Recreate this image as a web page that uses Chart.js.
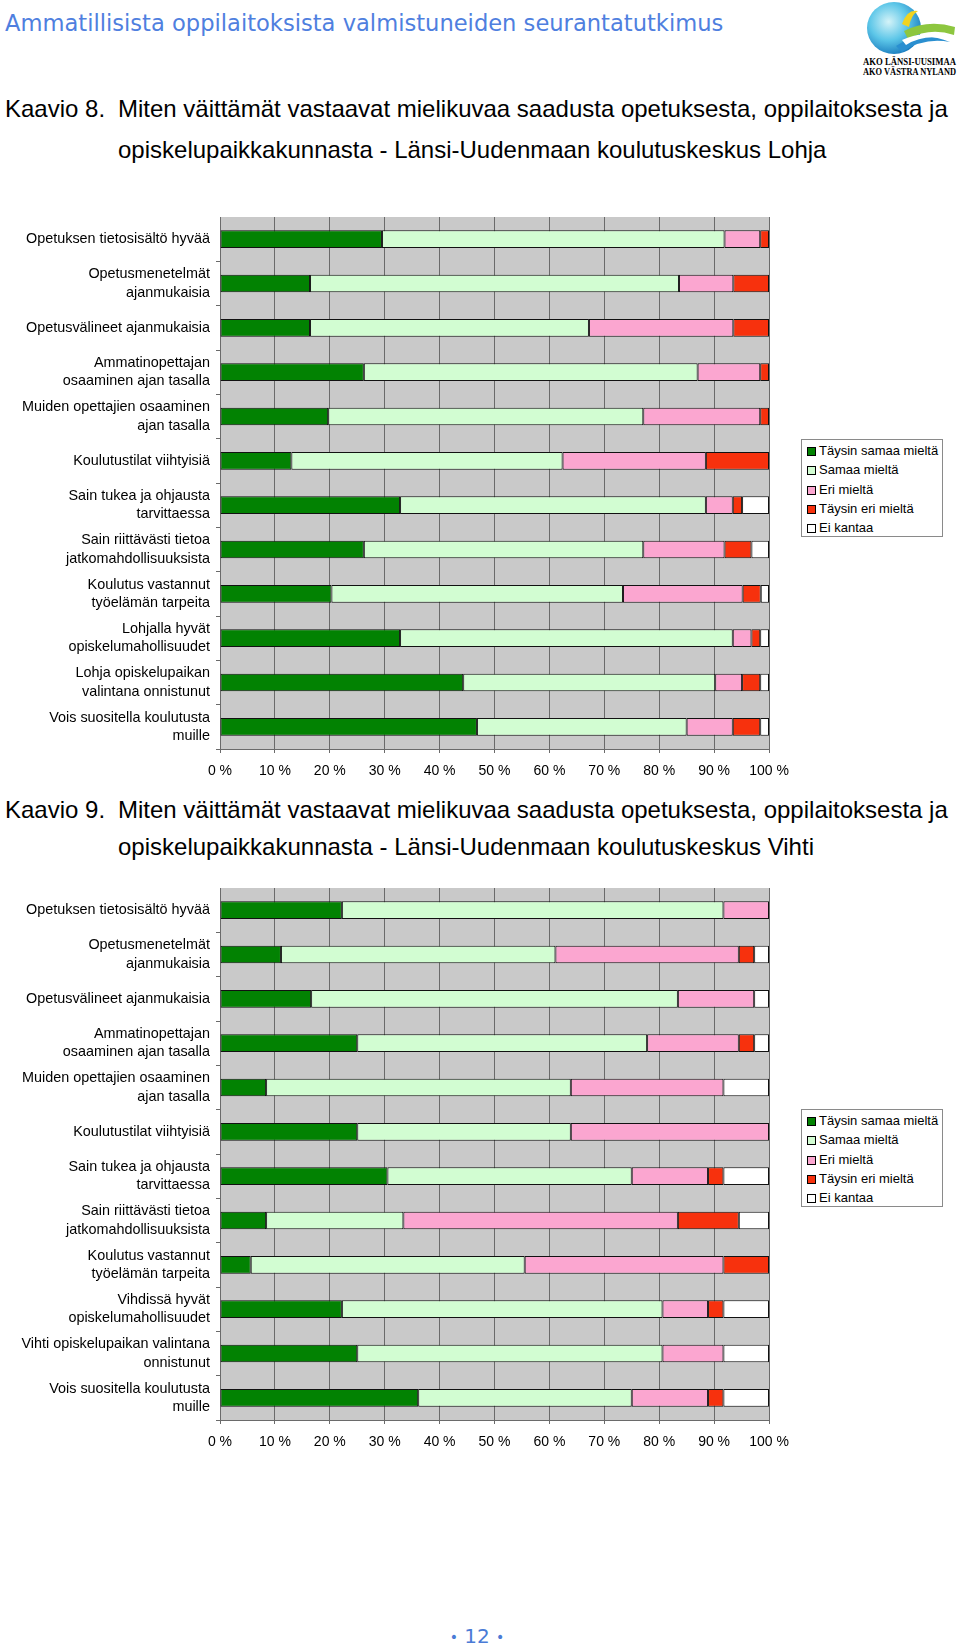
<!DOCTYPE html>
<html>
<head>
<meta charset="utf-8">
<script src="https://cdn.jsdelivr.net/npm/chart.js@4/dist/chart.umd.min.js"></script>
<style>
  body { margin: 0; width: 960px; height: 1647px; position: relative; background: #fff; overflow: hidden;
         font-family: "Liberation Sans", Arial, sans-serif; color: #000; }
  .abs { position: absolute; white-space: nowrap; }
  .header { left: 5px; top: 8px; line-height: 30px; font-family: "DejaVu Sans", sans-serif; font-size: 22.6px; color: #4f7fdf; }
  .title { font-size: 24px; line-height: 30px; }
  .box { position: absolute; left: 0; width: 800px; height: 562px; }
  .legend { position: absolute; left: 801px; width: 142px; height: 98px; box-sizing: border-box;
            border: 1px solid #8a8a8a; padding-top: 1px; font-size: 13px; background: #fff; }
  .legend div { height: 19.25px; line-height: 19.25px; padding-left: 5px; white-space: nowrap; }
  .legend span { display: inline-block; width: 9px; height: 9px; box-sizing: border-box; border: 1px solid #000;
                 margin-right: 3px; vertical-align: -1px; }
  .page { left: 0; width: 954px; top: 1622px; text-align: center; font-family: "DejaVu Sans", sans-serif;
          font-size: 20px; line-height: 28px; color: #4a7bd6; }
  .page .dot { font-size: 14px; vertical-align: 1px; }
</style>
</head>
<body>

<div class="abs header">Ammatillisista oppilaitoksista valmistuneiden seurantatutkimus</div>

<svg class="abs" style="left:858px;top:0" width="102" height="80">
  <defs>
    <radialGradient id="globe" cx="40%" cy="38%" r="65%">
      <stop offset="0" stop-color="#d4f3f8"/>
      <stop offset="0.55" stop-color="#5cc6e8"/>
      <stop offset="1" stop-color="#1b7dbf"/>
    </radialGradient>
  </defs>
  <ellipse cx="36" cy="28" rx="27" ry="26" fill="url(#globe)"/>
  <path d="M44 24 Q49 9 60 11 Q53 15 51 27 Z" fill="#f1d31f"/>
  <path d="M46 31 Q70 19 97 27 L96 35 Q72 27 50 39 Z" fill="#8dc63f"/>
  <path d="M38 46 Q62 30 92 42 Q66 37 44 52 Z" fill="#2a8fd0"/>
  <path d="M44 40 Q64 30 84 38 Q64 35 48 45 Z" fill="#ffffff"/>
  <text x="5" y="65" font-family="Liberation Serif, serif" font-weight="bold" font-size="10" textLength="93" lengthAdjust="spacingAndGlyphs">AKO LÄNSI-UUSIMAA</text>
  <text x="5" y="75" font-family="Liberation Serif, serif" font-weight="bold" font-size="10" textLength="93" lengthAdjust="spacingAndGlyphs">AKO VÄSTRA NYLAND</text>
</svg>

<div class="abs title" style="left:5px;top:94px">Kaavio 8.</div>
<div class="abs title" style="left:118px;top:94px">Miten väittämät vastaavat mielikuvaa saadusta opetuksesta, oppilaitoksesta ja</div>
<div class="abs title" style="left:118px;top:135px">opiskelupaikkakunnasta - Länsi-Uudenmaan koulutuskeskus Lohja</div>

<div class="box" style="top:217px"><canvas id="chartLohja"></canvas></div>
<div class="legend" id="legendLohja" style="top:439px"></div>

<div class="abs title" style="left:5px;top:795px">Kaavio 9.</div>
<div class="abs title" style="left:118px;top:795px">Miten väittämät vastaavat mielikuvaa saadusta opetuksesta, oppilaitoksesta ja</div>
<div class="abs title" style="left:118px;top:832px">opiskelupaikkakunnasta - Länsi-Uudenmaan koulutuskeskus Vihti</div>

<div class="box" style="top:888px"><canvas id="chartVihti"></canvas></div>
<div class="legend" id="legendVihti" style="top:1109px"></div>

<div class="abs page"><span class="dot">•</span> 12 <span class="dot">•</span></div>

<script>
const seriesNames = ["Täysin samaa mieltä", "Samaa mieltä", "Eri mieltä", "Täysin eri mieltä", "Ei kantaa"];
const seriesColors = ["#028202", "#d2fdd2", "#fba6d0", "#f7310d", "#ffffff"];
const tickLabels = ["0 %", "10 %", "20 %", "30 %", "40 %", "50 %", "60 %", "70 %", "80 %", "90 %", "100 %"];

const lohjaLabels = [
  "Opetuksen tietosisältö hyvää",
  ["Opetusmenetelmät", "ajanmukaisia"],
  "Opetusvälineet ajanmukaisia",
  ["Ammatinopettajan", "osaaminen ajan tasalla"],
  ["Muiden opettajien osaaminen", "ajan tasalla"],
  "Koulutustilat viihtyisiä",
  ["Sain tukea ja ohjausta", "tarvittaessa"],
  ["Sain riittävästi tietoa", "jatkomahdollisuuksista"],
  ["Koulutus vastannut", "työelämän tarpeita"],
  ["Lohjalla hyvät", "opiskelumahollisuudet"],
  ["Lohja opiskelupaikan", "valintana onnistunut"],
  ["Vois suositella koulutusta", "muille"]
];
const lohjaTaysinSamaa = [29.5, 16.4, 16.4, 26.2, 19.7, 13.0, 32.8, 26.2, 20.3, 32.8, 44.3, 46.8];
const lohjaSamaa       = [62.4, 67.2, 50.8, 60.8, 57.4, 49.4, 55.7, 50.9, 53.1, 60.6, 45.9, 38.2];
const lohjaEri         = [6.5, 9.9, 26.3, 11.4, 21.3, 26.1, 4.9, 14.8, 21.8, 3.4, 4.9, 8.4];
const lohjaTaysinEri   = [1.6, 6.5, 6.5, 1.6, 1.6, 11.5, 1.7, 4.9, 3.3, 1.6, 3.3, 5.0];
const lohjaEiKantaa    = [0, 0, 0, 0, 0, 0, 4.9, 3.2, 1.5, 1.6, 1.6, 1.6];

const vihtiLabels = [
  "Opetuksen tietosisältö hyvää",
  ["Opetusmenetelmät", "ajanmukaisia"],
  "Opetusvälineet ajanmukaisia",
  ["Ammatinopettajan", "osaaminen ajan tasalla"],
  ["Muiden opettajien osaaminen", "ajan tasalla"],
  "Koulutustilat viihtyisiä",
  ["Sain tukea ja ohjausta", "tarvittaessa"],
  ["Sain riittävästi tietoa", "jatkomahdollisuuksista"],
  ["Koulutus vastannut", "työelämän tarpeita"],
  ["Vihdissä hyvät", "opiskelumahollisuudet"],
  ["Vihti opiskelupaikan valintana", "onnistunut"],
  ["Vois suositella koulutusta", "muille"]
];
const vihtiTaysinSamaa = [22.2, 11.1, 16.6, 25.0, 8.4, 25.0, 30.5, 8.4, 5.6, 22.2, 25.0, 36.1];
const vihtiSamaa       = [69.5, 50.0, 66.8, 52.8, 55.5, 38.9, 44.5, 25.0, 49.9, 58.4, 55.6, 38.9];
const vihtiEri         = [8.3, 33.4, 13.9, 16.7, 27.8, 36.1, 13.9, 50.0, 36.2, 8.3, 11.1, 13.9];
const vihtiTaysinEri   = [0, 2.8, 0, 2.8, 0, 0, 2.8, 11.1, 8.3, 2.8, 0, 2.8];
const vihtiEiKantaa    = [0, 2.7, 2.7, 2.7, 8.3, 0, 8.3, 5.5, 0, 8.3, 8.3, 8.3];

Chart.defaults.font.family = '"Liberation Sans", Arial, sans-serif';
Chart.defaults.color = "#000";

// grey plot area like the original spreadsheet chart
const plotBackground = {
  id: "plotBackground",
  beforeDraw(chart) {
    const { ctx, chartArea } = chart;
    ctx.save();
    ctx.fillStyle = "#c9c9c9";
    ctx.fillRect(chartArea.left, chartArea.top, chartArea.width, chartArea.height);
    ctx.restore();
  }
};

function buildLegend(id) {
  const el = document.getElementById(id);
  seriesNames.forEach((name, i) => {
    const row = document.createElement("div");
    const sw = document.createElement("span");
    sw.style.background = seriesColors[i];
    row.appendChild(sw);
    row.appendChild(document.createTextNode(name));
    el.appendChild(row);
  });
}

function makeChart(id, labels, series) {
  return new Chart(document.getElementById(id), {
    type: "bar",
    data: {
      labels: labels,
      datasets: series.map((values, i) => ({
        label: seriesNames[i],
        data: values,
        backgroundColor: seriesColors[i],
        borderColor: "#111",
        borderWidth: (c) => (c.raw > 0 ? 1 : 0),
        borderSkipped: false,
        categoryPercentage: 1,
        barPercentage: 0.4
      }))
    },
    options: {
      indexAxis: "y",
      responsive: true,
      maintainAspectRatio: false,
      animation: false,
      layout: { padding: { top: 0, right: 31, bottom: 0, left: 0 } },
      plugins: { legend: { display: false }, tooltip: { enabled: false } },
      scales: {
        x: {
          stacked: true,
          min: 0,
          max: 100,
          ticks: {
            stepSize: 10,
            padding: 10,
            font: { size: 14 },
            callback: (v, i) => tickLabels[i]
          },
          grid: { color: "#6a6a6a", tickLength: 4 },
          border: { color: "#6a6a6a" },
          afterFit: (s) => { s.height = 30; s.paddingLeft = 0; s.paddingRight = 0; }
        },
        y: {
          stacked: true,
          ticks: { padding: 6, autoSkip: false, font: { size: 14.4, lineHeight: 1.28 } },
          grid: { drawOnChartArea: false, tickLength: 4, color: "#6a6a6a" },
          border: { color: "#6a6a6a" },
          afterFit: (s) => { s.width = 220; s.paddingTop = 0; s.paddingBottom = 0; }
        }
      }
    },
    plugins: [plotBackground]
  });
}

makeChart("chartLohja", lohjaLabels,
  [lohjaTaysinSamaa, lohjaSamaa, lohjaEri, lohjaTaysinEri, lohjaEiKantaa]);
makeChart("chartVihti", vihtiLabels,
  [vihtiTaysinSamaa, vihtiSamaa, vihtiEri, vihtiTaysinEri, vihtiEiKantaa]);
buildLegend("legendLohja");
buildLegend("legendVihti");
</script>
</body>
</html>
